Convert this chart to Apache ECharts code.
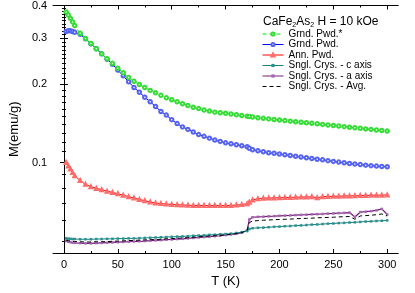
<!DOCTYPE html>
<html><head><meta charset="utf-8">
<script src="https://cdn.jsdelivr.net/npm/echarts@6/dist/echarts.min.js"></script>
<style>html,body{margin:0;padding:0;background:#fff}#c{width:415px;height:293px}</style>
</head><body><div id="c"></div>
<script>
const temps = [2,4,6,8,10,15,20,25,30,35,40,45,50,55,60,65,70,75,80,85,90,95,100,105,110,115,120,125,130,135,140,145,150,155,160,165,170,172,175,180,185,190,195,200,205,210,215,220,225,230,235,240,245,250,255,260,265,270,275,280,285,290,295,300];
const grndPwdStar = [0.378,0.368,0.357,0.346,0.335,0.313,0.299,0.286,0.273,0.261,0.250,0.240,0.230,0.221,0.212,0.205,0.199,0.194,0.189,0.185,0.181,0.177,0.174,0.171,0.168,0.1655,0.163,0.161,0.159,0.1575,0.156,0.1552,0.1545,0.1535,0.1525,0.1515,0.1505,0.1502,0.1495,0.1485,0.1477,0.147,0.1462,0.1455,0.1448,0.1441,0.1434,0.1428,0.1421,0.1414,0.1407,0.14,0.1393,0.1386,0.138,0.1373,0.1366,0.136,0.1353,0.1346,0.134,0.1333,0.1327,0.132];
const grndPwd = [0.318,0.320,0.320,0.318,0.316,0.310,0.298,0.285,0.273,0.261,0.249,0.238,0.226,0.215,0.204,0.194,0.186,0.178,0.171,0.164,0.157,0.152,0.146,0.141,0.137,0.134,0.131,0.128,0.126,0.124,0.122,0.1205,0.119,0.118,0.117,0.116,0.115,0.1135,0.112,0.111,0.110,0.109,0.1085,0.1078,0.1071,0.1064,0.1057,0.105,0.1043,0.1036,0.103,0.1024,0.1017,0.101,0.1004,0.0998,0.0992,0.0987,0.0982,0.0977,0.0973,0.0969,0.0966,0.0963];
const annPwd = [0.100,0.097,0.0945,0.0915,0.089,0.0853,0.0825,0.0808,0.0796,0.0787,0.0777,0.0768,0.0759,0.0749,0.0740,0.0731,0.0722,0.0714,0.0706,0.0700,0.0696,0.0693,0.0691,0.0689,0.0687,0.0686,0.0685,0.0685,0.0684,0.0684,0.0684,0.0684,0.0684,0.0685,0.0687,0.0690,0.0695,0.0705,0.0718,0.0727,0.0730,0.0731,0.0732,0.0733,0.0734,0.0735,0.0736,0.0737,0.0738,0.0739,0.0733,0.0740,0.0741,0.0742,0.0743,0.0744,0.0745,0.0746,0.0747,0.0748,0.0749,0.0750,0.0750,0.0751];
const crysC = [0.0512,0.0511,0.0510,0.0509,0.0509,0.0508,0.0508,0.0508,0.0509,0.0509,0.0510,0.0510,0.0511,0.0511,0.0512,0.0512,0.0513,0.0514,0.0515,0.0516,0.0517,0.0518,0.0519,0.0520,0.0521,0.0522,0.0524,0.0525,0.0526,0.0528,0.0529,0.0531,0.0532,0.0534,0.0537,0.0541,0.0546,0.0556,0.0560,0.0562,0.0563,0.0565,0.0567,0.0568,0.0570,0.0571,0.0573,0.0574,0.0576,0.0578,0.0579,0.0581,0.0583,0.0584,0.0586,0.0587,0.0589,0.0590,0.0592,0.0594,0.0595,0.0597,0.0598,0.0600];
const crysA = [0.0500,0.0497,0.0495,0.0493,0.0492,0.0491,0.0490,0.0490,0.0491,0.0492,0.0493,0.0494,0.0495,0.0496,0.0497,0.0498,0.0499,0.0500,0.0502,0.0503,0.0504,0.0506,0.0507,0.0509,0.0510,0.0512,0.0514,0.0516,0.0518,0.0520,0.0522,0.0524,0.0527,0.0530,0.0533,0.0538,0.0550,0.0605,0.0617,0.0619,0.0620,0.0622,0.0623,0.0625,0.0626,0.0627,0.0629,0.0630,0.0631,0.0633,0.0634,0.0635,0.0637,0.0638,0.0640,0.0641,0.0643,0.0618,0.0646,0.0648,0.0651,0.0656,0.0664,0.0632];
const crysAvg = [0.0504,0.0502,0.0500,0.0499,0.0498,0.0497,0.0496,0.0496,0.0497,0.0497,0.0498,0.0499,0.0500,0.0501,0.0502,0.0503,0.0504,0.0505,0.0506,0.0507,0.0508,0.0510,0.0511,0.0512,0.0514,0.0515,0.0517,0.0519,0.0521,0.0523,0.0524,0.0526,0.0529,0.0531,0.0534,0.0539,0.0549,0.0588,0.0597,0.0599,0.0601,0.0602,0.0604,0.0605,0.0606,0.0607,0.0609,0.0610,0.0611,0.0612,0.0614,0.0615,0.0616,0.0617,0.0619,0.0620,0.0621,0.0606,0.0624,0.0626,0.0628,0.0631,0.0635,0.0624];

const xLabelValues = [0,50,100,150,200,250,300];
const xMinorValues = [25,75,125,175,225,275];
const yLabelValues = [0.1,0.2,0.3,0.4];
const yMinorValues = [0.05,0.06,0.07,0.08,0.09,0.11,0.12,0.13,0.14,0.15,0.16,0.17,0.18,0.19,0.21,0.22,0.23,0.24,0.25,0.26,0.27,0.28,0.29,0.31,0.32,0.33,0.34,0.35,0.36,0.37,0.38,0.39];
const seriesNames = ['Grnd. Pwd.*','Grnd. Pwd.','Ann. Pwd.','Sngl. Crys. - c axis','Sngl. Crys. - a axis','Sngl. Crys. - Avg.'];

const FONT = '"Liberation Sans", Arial, Helvetica, sans-serif';
const X_MIN = -10, X_MAX = 310, Y_MIN = 0.045, Y_MAX = 0.4;

function pts(vals){ return temps.map((t,i)=>[t, vals[i]]); }

function xAxisDef(pos, ticks, len, opts){
  return Object.assign({
    type:'value', min:X_MIN, max:X_MAX, position:pos,
    axisLine:{show:true, lineStyle:{color:'#000', width:1}},
    axisTick:{show:true, inside:true, length:len, customValues:ticks, lineStyle:{color:'#000', width:1}},
    axisLabel:{show:false},
    splitLine:{show:false}
  }, opts||{});
}
function yAxisDef(pos, ticks, len, opts){
  return Object.assign({
    type:'log', logBase:10, min:Y_MIN, max:Y_MAX, position:pos,
    axisLine:{show:true, lineStyle:{color:'#000', width:1}},
    axisTick:{show:true, inside:true, length:len, customValues:ticks, lineStyle:{color:'#000', width:1}},
    axisLabel:{show:false},
    splitLine:{show:false}, minorTick:{show:false}
  }, opts||{});
}

const chart = echarts.init(document.getElementById('c'), null, {renderer:'canvas'});
chart.setOption({
  animation:false,
  backgroundColor:'#fff',
  textStyle:{fontFamily:FONT},
  grid:{left:45, right:17, top:5, bottom:39, containLabel:false},
  title:{
    text:'CaFe{s|2}As{s|2} H = 10 kOe', left:258, top:10,
    textStyle:{fontSize:12, fontWeight:'normal', color:'#000', fontFamily:FONT,
      rich:{s:{fontSize:7, fontFamily:FONT, color:'#000', padding:[7,0,0,0]}}}
  },
  legend:{
    orient:'vertical', left:262, top:29, padding:0, itemGap:0.5,
    itemWidth:21, itemHeight:4,
    lineStyle:{width:1},
    textStyle:{fontSize:10, color:'#000', fontFamily:FONT, lineHeight:10},
    data:[
      seriesNames[0], seriesNames[1], seriesNames[2], seriesNames[3], seriesNames[4],
      {name:seriesNames[5], itemStyle:{color:'rgba(0,0,0,0)', borderColor:'rgba(0,0,0,0)', borderWidth:0}}
    ]
  },
  xAxis:[
    xAxisDef('bottom', xLabelValues, 4, {
      axisLabel:{show:true, customValues:xLabelValues, color:'#000', fontSize:11, margin:6, fontFamily:FONT},
      name:'T (K)', nameLocation:'middle', nameGap:22,
      nameTextStyle:{fontSize:13, color:'#000', fontFamily:FONT}
    }),
    xAxisDef('bottom', xMinorValues, 2),
    xAxisDef('top', xLabelValues, 4),
    xAxisDef('top', xMinorValues, 2)
  ],
  yAxis:[
    yAxisDef('left', yLabelValues, 4, {
      axisLabel:{show:true, customValues:yLabelValues, color:'#000', fontSize:11, margin:6, fontFamily:FONT,
        formatter:(v)=>String(Math.round(v*10)/10)},
      name:'M(emu/g)', nameLocation:'middle', nameGap:27,
      nameTextStyle:{fontSize:13, color:'#000', fontFamily:FONT}
    }),
    yAxisDef('left', yMinorValues, 2),
    yAxisDef('right', yLabelValues, 4),
    yAxisDef('right', yMinorValues, 2)
  ],
  series:[
    {name:seriesNames[0], type:'line', data:pts(grndPwdStar), symbol:'emptyCircle', symbolSize:3.5,
      lineStyle:{color:'#00e600', width:1, type:[4,3]}, itemStyle:{color:'#33dd33', borderWidth:0.7}, z:3},
    {name:seriesNames[1], type:'line', data:pts(grndPwd), symbol:'emptyCircle', symbolSize:3.5,
      lineStyle:{color:'#0000ff', width:1}, itemStyle:{color:'#5563f0', borderWidth:0.7}, z:2},
    {name:seriesNames[2], type:'line', data:pts(annPwd), symbol:'emptyTriangle', symbolSize:3,
      lineStyle:{color:'#ff0000', width:1}, itemStyle:{color:'#ff6a6a', borderWidth:0.5}, z:2},
    {name:seriesNames[3], type:'line', data:pts(crysC), symbol:'rect', symbolSize:2.5,
      lineStyle:{color:'#1a8080', width:1}, itemStyle:{color:'#2a9090'}, z:4},
    {name:seriesNames[4], type:'line', data:pts(crysA), symbol:'rect', symbolSize:2.5,
      lineStyle:{color:'#7a1a7a', width:1.2}, itemStyle:{color:'#a066b0'}, z:3},
    {name:seriesNames[5], type:'line', data:pts(crysAvg), symbol:'none', showSymbol:false,
      lineStyle:{color:'#000', width:1, type:[4,3]}, itemStyle:{color:'#000'}, z:5}
  ]
});
</script></body></html>
